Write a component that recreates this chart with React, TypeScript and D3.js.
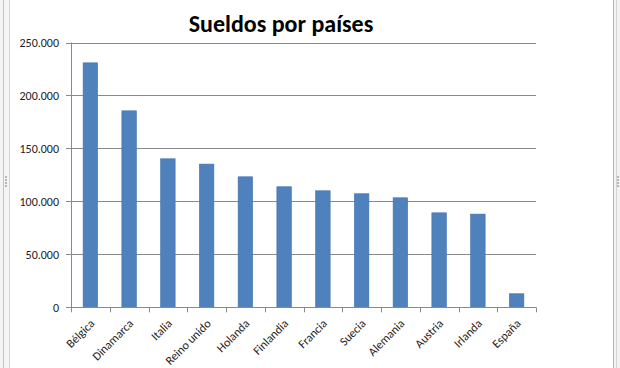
import React from "react";
import * as d3 from "d3";

const categories = ["Bélgica", "Dinamarca", "Italia", "Reino unido", "Holanda", "Finlandia", "Francia", "Suecia", "Alemania", "Austria", "Irlanda", "España"];
const values = [230800, 185500, 140200, 135200, 123200, 113800, 110000, 107200, 103400, 89200, 88000, 12800];
const yTicks = [0, 50000, 100000, 150000, 200000, 250000];
const title = "Sueldos por países";

const W = 620, H = 368;
const left = 71, right = 536, top = 42.5, bottom = 307.3;

export default function App() {
  const x = d3.scaleBand<string>().domain(categories).range([left, right]).paddingInner(0.625).paddingOuter(0.3125);
  const xb = d3.scaleBand<string>().domain(categories).range([left, right]);
  const y = d3.scaleLinear().domain([0, 250000]).range([bottom, top]);
  const fmt = (v: number) => d3.format(",")(v).replace(/,/g, ".");
  const font = "Calibri, Carlito, 'Open Sans', sans-serif";
  return (
    <div style={{ position: "fixed", left: 0, top: 0 }}>
      <svg width={W} height={H} style={{ display: "block", background: "#fff" }}>
        {/* side frame */}
        <rect x={0} y={0} width={9} height={H} fill="#f4f4f4" />
        <line x1={3.5} x2={3.5} y1={0} y2={H} stroke="#c4c4c4" />
        <line x1={9.5} x2={9.5} y1={0} y2={H} stroke="#d6d6d6" />
        {[0, 1, 2, 3].map((i) => (
          <rect key={i} x={5} y={176 + i * 3} width={2} height={2} fill="#b8b8b8" />
        ))}
        <rect x={613} y={0} width={7} height={H} fill="#f2f2f2" />
        <line x1={613.5} x2={613.5} y1={0} y2={H} stroke="#b4b4b4" />
        <line x1={616.5} x2={616.5} y1={0} y2={H} stroke="#d4d4d4" />
        {[0, 1, 2, 3].map((i) => (
          <rect key={"r" + i} x={617} y={176 + i * 3} width={2} height={2} fill="#b8b8b8" />
        ))}

        <text x={281} y={32} textAnchor="middle" fontFamily={font} fontWeight="bold" fontSize={24} fill="#000">{title}</text>

        {/* gridlines */}
        {yTicks.filter((t) => t > 0).map((t) => (
          <line key={t} x1={left} x2={right} y1={Math.round(y(t)) + 0.5} y2={Math.round(y(t)) + 0.5} stroke="#8a8a8a" />
        ))}
        {/* y axis */}
        <line x1={left + 0.5} x2={left + 0.5} y1={top} y2={bottom} stroke="#8a8a8a" />
        {yTicks.map((t) => (
          <g key={"yt" + t}>
            <line x1={left - 5} x2={left} y1={Math.round(y(t)) + 0.5} y2={Math.round(y(t)) + 0.5} stroke="#8a8a8a" />
            <text x={59} y={y(t)} dy="0.35em" textAnchor="end" fontFamily={font} fontSize={12} fill="#222">{fmt(t)}</text>
          </g>
        ))}
        {/* bars */}
        {categories.map((c, i) => (
          <rect key={c} x={x(c)} y={y(values[i])} width={x.bandwidth()} height={bottom - y(values[i])} fill="#4f81bd" stroke="#4474ad" strokeWidth={0.6} />
        ))}
        {/* x axis */}
        <line x1={left} x2={right} y1={Math.round(bottom) + 0.5} y2={Math.round(bottom) + 0.5} stroke="#8a8a8a" />
        {categories.concat(["_end"]).map((c, i) => {
          const px = Math.round(left + i * xb.step()) + 0.5;
          return <line key={"xt" + i} x1={px} x2={px} y1={bottom} y2={bottom + 5} stroke="#8a8a8a" />;
        })}
        {categories.map((c) => {
          const cx = (xb(c) as number) + xb.bandwidth() / 2;
          return (
            <text key={"xl" + c} transform={`translate(${cx + 5},${bottom + 17}) rotate(-45)`} textAnchor="end" fontFamily={font} fontSize={12} fill="#222">{c}</text>
          );
        })}
      </svg>
    </div>
  );
}
